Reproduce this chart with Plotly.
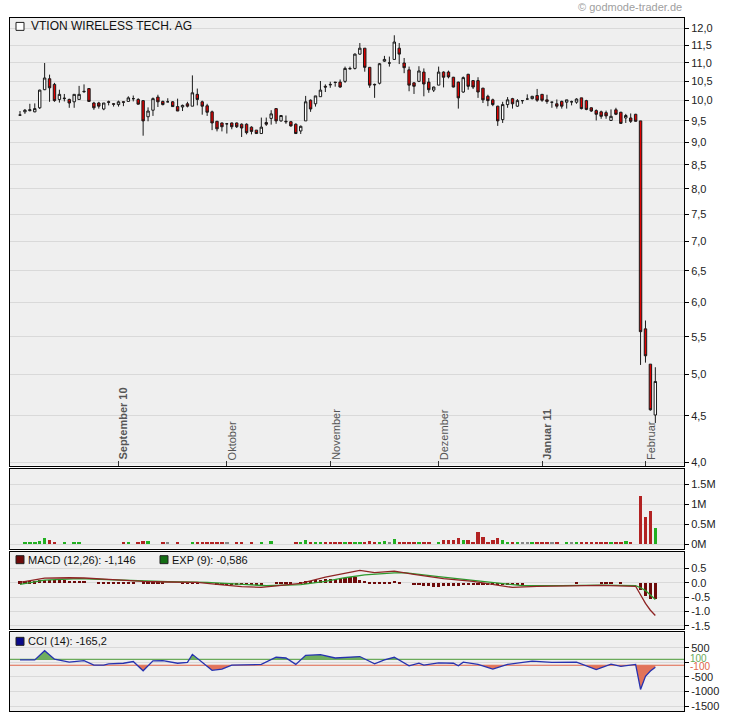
import math
import plotly.graph_objects as go

# ---------------- data ----------------
opens = [9.64, 9.72, 9.75, 9.72, 9.82, 10.28, 10.57, 10.42, 10.03, 10.05,
         10.03, 9.97, 10.03, 10.24, 10.31, 9.94, 9.94, 9.79, 9.97, 9.92,
         9.9, 9.97, 9.98, 10.05, 10.03, 10.0, 9.6, 9.76, 10.09, 9.98,
         9.97, 9.97, 9.85, 9.84, 9.92, 9.86, 10.16, 9.97, 9.87, 9.72,
         9.49, 9.45, 9.43, 9.45, 9.45, 9.42, 9.42, 9.35, 9.28, 9.2,
         9.46, 9.56, 9.8, 9.5, 9.49, 9.48, 9.42, 9.26, 9.5, 10.01,
         9.92, 10.1, 10.37, 10.42, 10.48, 10.48, 10.5, 10.85, 10.85, 11.25,
         11.42, 10.88, 10.42, 10.45, 11.05, 11.0, 11.1, 11.42, 11.0, 10.81,
         10.46, 10.5, 10.75, 10.48, 10.27, 10.4, 10.75, 10.75, 10.61, 10.48,
         10.22, 10.69, 10.52, 10.52, 10.32, 10.11, 10.02, 9.86, 9.53, 9.9,
         10.05, 9.86, 10.0, 10.04, 10.05, 10.13, 10.16, 10.02, 9.96, 9.92,
         9.98, 9.96, 9.97, 9.96, 10.07, 10.0, 9.82, 9.75, 9.72, 9.7,
         9.51, 9.77, 9.71, 9.57, 9.57, 9.66, 9.5, 5.61, 5.13, 4.51]
highs = [9.74, 9.79, 9.92, 9.93, 10.28, 11.0, 10.68, 10.46, 10.28, 10.17,
         10.05, 10.16, 10.38, 10.42, 10.31, 9.97, 9.97, 9.94, 10.0, 9.94,
         10.0, 9.98, 10.11, 10.13, 10.06, 10.01, 9.83, 10.08, 10.15, 10.0,
         10.06, 9.99, 10.05, 9.9, 9.97, 10.66, 10.31, 10.0, 9.92, 9.75,
         9.5, 9.46, 9.45, 9.46, 9.46, 9.44, 9.44, 9.37, 9.28, 9.58,
         9.58, 9.76, 9.8, 9.63, 9.63, 9.5, 9.44, 9.39, 10.12, 10.03,
         10.12, 10.51, 10.42, 10.49, 10.48, 10.55, 10.9, 10.9, 11.27, 11.57,
         11.42, 10.88, 10.44, 11.0, 11.2, 11.18, 11.8, 11.57, 11.14, 10.9,
         10.48, 10.91, 10.85, 10.59, 10.36, 10.9, 10.77, 10.79, 10.62, 10.49,
         10.63, 10.7, 10.53, 10.61, 10.33, 10.15, 10.05, 9.87, 9.97, 10.09,
         10.07, 10.04, 10.01, 10.16, 10.12, 10.3, 10.17, 10.15, 9.97, 10.03,
         10.0, 10.02, 10.0, 10.06, 10.07, 10.02, 9.83, 9.78, 9.75, 9.75,
         9.78, 9.82, 9.72, 9.67, 9.68, 9.67, 9.5, 5.73, 5.13, 5.09]
lows = [9.63, 9.67, 9.73, 9.71, 9.79, 10.27, 9.97, 9.97, 9.95, 9.98,
        9.82, 9.82, 10.03, 10.2, 9.97, 9.77, 9.8, 9.76, 9.88, 9.85,
        9.85, 9.86, 9.97, 9.98, 9.9, 9.15, 9.49, 9.62, 9.84, 9.88,
        9.96, 9.84, 9.74, 9.74, 9.83, 9.86, 9.88, 9.65, 9.62, 9.28,
        9.25, 9.25, 9.2, 9.3, 9.33, 9.12, 9.18, 9.18, 9.2, 9.2,
        9.38, 9.41, 9.43, 9.48, 9.43, 9.36, 9.19, 9.19, 9.5, 9.72,
        9.85, 10.1, 10.22, 10.33, 10.36, 10.33, 10.46, 10.82, 10.82, 11.23,
        10.76, 10.33, 10.07, 10.42, 11.03, 10.9, 11.1, 10.97, 10.72, 10.24,
        10.17, 10.48, 10.11, 10.2, 10.22, 10.4, 10.34, 10.58, 10.34, 9.8,
        10.2, 10.28, 10.3, 10.07, 9.94, 9.86, 9.86, 9.38, 9.45, 9.82,
        9.8, 9.84, 9.92, 10.03, 10.03, 9.97, 9.97, 9.92, 9.82, 9.8,
        9.8, 9.8, 9.88, 9.92, 9.78, 9.76, 9.72, 9.51, 9.55, 9.55,
        9.51, 9.64, 9.43, 9.45, 9.45, 9.48, 5.12, 5.15, 4.56, 4.42]
closes = [9.64, 9.76, 9.77, 9.8, 10.27, 10.59, 10.33, 10.0, 10.16, 10.06,
          9.94, 10.16, 10.16, 10.23, 9.98, 9.82, 9.86, 9.94, 9.96, 9.91,
          9.97, 9.96, 10.07, 10.05, 9.91, 9.5, 9.74, 10.05, 9.97, 9.9,
          9.97, 9.85, 9.74, 9.88, 9.86, 10.2, 10.03, 9.86, 9.71, 9.45,
          9.31, 9.36, 9.43, 9.36, 9.36, 9.33, 9.22, 9.25, 9.2, 9.35,
          9.42, 9.67, 9.5, 9.63, 9.48, 9.38, 9.2, 9.37, 9.97, 9.79,
          10.12, 10.27, 10.35, 10.41, 10.47, 10.35, 10.85, 10.84, 11.25, 11.42,
          10.88, 10.4, 10.41, 10.98, 11.1, 11.0, 11.6, 11.25, 10.87, 10.4,
          10.37, 10.78, 10.43, 10.28, 10.35, 10.75, 10.61, 10.62, 10.35, 10.07,
          10.6, 10.37, 10.35, 10.22, 10.02, 10.0, 9.9, 9.5, 9.9, 10.02,
          9.92, 10.0, 10.0, 10.04, 10.11, 10.01, 10.01, 9.98, 9.96, 9.86,
          9.86, 10.02, 9.97, 10.04, 9.8, 9.78, 9.74, 9.66, 9.61, 9.62,
          9.61, 9.66, 9.44, 9.63, 9.49, 9.49, 5.57, 5.24, 4.57, 4.91]
volumes = [0, 40000, 40000, 40000, 70000, 140000, 110000, 40000, 0, 40000,
           0, 40000, 40000, 0, 0, 0, 0, 0, 0, 0,
           0, 40000, 40000, 0, 60000, 70000, 70000, 0, 0, 40000,
           40000, 0, 40000, 0, 0, 60000, 40000, 40000, 40000, 40000,
           40000, 40000, 40000, 0, 40000, 60000, 0, 40000, 0, 40000,
           0, 70000, 0, 0, 0, 0, 40000, 40000, 90000, 40000,
           60000, 40000, 40000, 40000, 40000, 60000, 40000, 60000, 60000, 40000,
           60000, 70000, 40000, 60000, 70000, 60000, 130000, 60000, 40000, 60000,
           60000, 60000, 60000, 40000, 0, 60000, 90000, 90000, 90000, 160000,
           110000, 110000, 60000, 310000, 180000, 60000, 90000, 160000, 90000, 60000,
           40000, 40000, 40000, 40000, 40000, 60000, 60000, 60000, 40000, 40000,
           0, 40000, 40000, 40000, 40000, 40000, 40000, 60000, 40000, 60000,
           40000, 40000, 40000, 70000, 40000, 0, 1200000, 670000, 820000, 410000]

month_idx = [20, 42, 63, 85, 106, 127]
month_labels = ["September 10", "Oktober", "November", "Dezember", "Januar 11", "Februar"]
month_bold = [True, False, False, False, True, False]

price_ticks = [4.0, 4.5, 5.0, 5.5, 6.0, 6.5, 7.0, 7.5, 8.0, 8.5, 9.0, 9.5, 10.0, 10.5, 11.0, 11.5, 12.0]
support_levels = [5.24, 4.5]

vol_ticks = [0, 500000, 1000000, 1500000]
vol_tick_text = ["0M", "0.5M", "1M", "1.5M"]

macd_x = [0, 5, 10, 13, 18, 25, 30, 36, 40, 45, 49, 53, 57, 62, 66, 69, 72, 76, 80, 86,
          92, 96, 100, 105, 112, 118, 125, 126, 127, 128, 129]
macd_vals = [0.02, 0.17, 0.18, 0.17, 0.12, 0.05, 0.03, 0.02, -0.05, -0.13, -0.16, -0.1, -0.02,
             0.2, 0.35, 0.44, 0.36, 0.41, 0.3, 0.15, 0.05, -0.05, -0.16, -0.12, -0.1, -0.09,
             -0.12, -0.42, -0.72, -0.96, -1.146]
signal_x = [0, 5, 12, 20, 30, 38, 44, 50, 57, 62, 66, 70, 76, 78, 85, 92, 97, 102, 110, 118,
            125, 126, 127, 128, 129]
signal_vals = [-0.05, 0.1, 0.15, 0.1, 0.04, 0.02, -0.04, -0.1, -0.06, 0.05, 0.18, 0.28, 0.35,
               0.36, 0.22, 0.08, -0.02, -0.1, -0.1, -0.08, -0.1, -0.17, -0.27, -0.42, -0.586]
hist_vals = ([0.06] * 4 + [0.1] * 6 + [0.07] * 4 + [0] * 2 + [0.05] * 8 + [0] + [0.05] * 5 +
             [0] * 3 + [0.02] * 4 + [0] * 3 + [-0.05] * 10 + [0] * 2 + [0.04] * 4 + [0] +
             [0.04, 0.06, 0.08, 0.1, 0.12, 0.13, 0.15, 0.16, 0.18, 0.19, 0.2, 0.2] +
             [0.12, 0.08, 0.05, 0.05, 0.05, 0.05, 0.05, 0.07, 0.05] + [0] * 2 +
             [-0.05, -0.08, -0.1, -0.11, -0.13, -0.12, -0.11, -0.1, -0.1, -0.09, -0.08, -0.08,
              -0.07, -0.07, -0.06, -0.06, -0.05, -0.05, -0.05, -0.04, -0.04, -0.03, -0.03] +
             [0] * 8 + [0] * 2 + [0.05] + [0] * 4 + [0.04] * 3 + [0] + [0.04] + [0] * 3 +
             [-0.25, -0.45, -0.54, -0.56])
macd_ticks = [-1.5, -1.0, -0.5, 0.0, 0.5]

cci_x = [0, 3, 5, 7, 10, 13, 15, 17, 18, 21, 23, 25, 27, 29, 32, 34, 35, 37, 39, 41, 43, 49,
         52, 54, 56, 58, 61, 64, 69, 72, 74, 76, 79, 81, 82, 85, 88, 89, 90, 93, 96, 99, 104,
         108, 113, 117, 120, 122, 125, 126, 127, 128, 129]
cci_vals = [85, 85, 400, 107, 5, 60, -95, -95, -50, -30, 30, -290, 50, 60, -30, 0, 275, 0,
            -275, -230, -95, -70, 175, 150, -70, 240, 265, 150, 200, -50, 85, 175, -120, -30,
            -95, -15, -30, -120, 5, -70, -230, -70, 40, 0, 5, -250, -60, -140, -70, -930, -480,
            -300, -165.2]
cci_ticks = [-1500, -1000, -500, 0, 500]
cci_levels = [100, -100]

# ---------------- geometry helpers ----------------
W, H = 730, 724
FONT = "Liberation Sans, Arial, sans-serif"


def px(x):
    return x / W


def py(y):
    return 1 - y / H


N = len(closes)
xs = list(range(N))
X0_PIX, STEP = 20.0, 4.925
XL, XR = 10, 684
x_range = [-(X0_PIX - XL) / STEP, (XR - X0_PIX) / STEP]

main_dom = [py(467.5), py(18)]
vol_dom = [py(551), py(471)]
macd_dom = [py(632), py(554)]
cci_dom = [py(714), py(635)]

fig = go.Figure()

# candles
fig.add_trace(go.Candlestick(
    x=xs, open=opens, high=highs, low=lows, close=closes,
    increasing=dict(line=dict(color="#1a1a1a", width=1), fillcolor="#ffffff"),
    decreasing=dict(line=dict(color="#1a1a1a", width=1), fillcolor="#e00000"),
    whiskerwidth=0, xaxis="x", yaxis="y", showlegend=False, hoverinfo="skip"))

# volume
vol_colors = ["#22b022" if c > o else ("#b22222" if c < o else "#888888")
              for o, c in zip(opens, closes)]
fig.add_trace(go.Bar(x=xs, y=volumes, marker=dict(color=vol_colors, line=dict(width=0)),
                     width=0.7, xaxis="x2", yaxis="y2", showlegend=False))

# MACD
fig.add_trace(go.Bar(x=xs, y=hist_vals, marker=dict(color="#6e0b0b", line=dict(width=0)),
                     width=0.65, xaxis="x3", yaxis="y3", showlegend=False))
fig.add_trace(go.Scatter(x=signal_x, y=signal_vals, mode="lines",
                         line=dict(color="#2e9a2e", width=1.3), xaxis="x3", yaxis="y3",
                         showlegend=False))
fig.add_trace(go.Scatter(x=macd_x, y=macd_vals, mode="lines",
                         line=dict(color="#8e2424", width=1.3), xaxis="x3", yaxis="y3",
                         showlegend=False))


# CCI fills
def clipped_polygon(xv, yv, level, above):
    pxs, pys = [], []
    for k in range(len(xv)):
        if k > 0:
            y0, y1 = yv[k - 1], yv[k]
            if (y0 - level) * (y1 - level) < 0:
                t = (level - y0) / (y1 - y0)
                pxs.append(xv[k - 1] + t * (xv[k] - xv[k - 1]))
                pys.append(level)
        pxs.append(xv[k])
        pys.append(max(yv[k], level) if above else min(yv[k], level))
    return pxs + pxs[::-1], pys + [level] * len(pxs)


gx, gy = clipped_polygon(cci_x, cci_vals, cci_levels[0], True)
fig.add_trace(go.Scatter(x=gx, y=gy, fill="toself", fillcolor="#6fae5e", mode="lines",
                         line=dict(width=0), xaxis="x4", yaxis="y4", showlegend=False))
rx, ry = clipped_polygon(cci_x, cci_vals, cci_levels[1], False)
fig.add_trace(go.Scatter(x=rx, y=ry, fill="toself", fillcolor="#e2735a", mode="lines",
                         line=dict(width=0), xaxis="x4", yaxis="y4", showlegend=False))
fig.add_trace(go.Scatter(x=cci_x, y=cci_vals, mode="lines",
                         line=dict(color="#2632b0", width=1.3), xaxis="x4", yaxis="y4",
                         showlegend=False))

shapes = []
# CCI level lines
for lvl, col in zip(cci_levels, ["#6aaa5a", "#e0664a"]):
    shapes.append(dict(type="line", xref="x4 domain", x0=0, x1=1, yref="y4", y0=lvl, y1=lvl,
                       line=dict(color=col, width=1.2), layer="below"))
# support lines on price chart
for lvl in support_levels:
    shapes.append(dict(type="line", xref="x domain", x0=0, x1=1, yref="y",
                       y0=math.log10(lvl), y1=math.log10(lvl),
                       line=dict(color="#6b6bd6", width=1.2)))


def legend_square(x, y, color):
    shapes.append(dict(type="rect", xref="paper", yref="paper",
                       x0=px(x), x1=px(x + 8), y0=py(y + 4), y1=py(y - 4),
                       fillcolor=color, line=dict(color="#222222", width=1)))


legend_square(16, 26.5, "#ffffff")
legend_square(16, 562, "#6e0b0b")
legend_square(160, 562, "#146e14")
legend_square(16, 644, "#0a0a8a")

ann = []


def text(x, y, s, size=11, color="#111111", xanchor="left", **kw):
    ann.append(dict(xref="paper", yref="paper", x=px(x), y=py(y), text=s, showarrow=False,
                    xanchor=xanchor, yanchor="middle",
                    font=dict(family=FONT, size=size, color=color), **kw))


text(29, 26.5, "VTION WIRELESS TECH. AG", size=12)
text(684, 7.5, "© godmode-trader.de", size=11, color="#a0a0a0", xanchor="right")
text(26, 562, "MACD (12,26): -1,146")
text(170, 562, "EXP (9): -0,586")
text(26, 644, "CCI (14): -165,2")

# month labels
for idx, lab, bold in zip(month_idx, month_labels, month_bold):
    ann.append(dict(xref="x", yref="paper", x=idx, y=py(464), xshift=5,
                    text=("<b>%s</b>" % lab) if bold else lab, textangle=-90,
                    showarrow=False, xanchor="center", yanchor="bottom",
                    font=dict(family=FONT, size=11, color="#555555")))

# CCI +-100 labels
for lvl, col, shift in zip(cci_levels, ["#6aaa5a", "#e0664a"], [1, -1]):
    ann.append(dict(xref="paper", yref="y4", x=px(688), y=lvl, yshift=shift, text=str(lvl),
                    showarrow=False, xanchor="left", yanchor="middle",
                    font=dict(family=FONT, size=10, color=col)))

GRID = "#d9d9d9"
axis_common = dict(showline=True, mirror=True, linecolor="#000000", linewidth=1,
                   zeroline=False, fixedrange=True)
tickfont = dict(family=FONT, size=11, color="#222222")


def xaxis(anchor, ticks):
    d = dict(domain=[px(XL), px(XR)], range=x_range, anchor=anchor, showgrid=False,
             showticklabels=False, **axis_common)
    if ticks:
        d.update(ticks="inside", tickvals=month_idx, ticklen=5, tickcolor="#333333")
    else:
        d.update(ticks="")
    return d


def yaxis(dom, rng, tv, tt, anchor, **kw):
    d = dict(domain=dom, range=rng, side="right", anchor=anchor, tickvals=tv, ticktext=tt,
             ticks="outside", ticklen=4, tickcolor="#000000", showgrid=True, gridcolor=GRID,
             gridwidth=1, tickfont=tickfont, **axis_common)
    d.update(kw)
    return d


main_rng = [math.log10(3.968), math.log10(12.33)]

fig.update_layout(
    width=W, height=H, margin=dict(l=0, r=0, t=0, b=0),
    paper_bgcolor="#ffffff", plot_bgcolor="#efefef",
    showlegend=False, bargap=0,
    xaxis=dict(xaxis("y", True), rangeslider=dict(visible=False)),
    xaxis2=xaxis("y2", False),
    xaxis3=xaxis("y3", False),
    xaxis4=xaxis("y4", False),
    yaxis=yaxis(main_dom, main_rng, price_ticks,
                [("%.1f" % v).replace(".", ",") for v in price_ticks], "x", type="log"),
    yaxis2=yaxis(vol_dom, [-117500, 1882500], vol_ticks, vol_tick_text, "x2"),
    yaxis3=yaxis(macd_dom, [-1.631, 1.093], macd_ticks, ["%.1f" % v for v in macd_ticks], "x3"),
    yaxis4=yaxis(cci_dom, [-1672, 1030], cci_ticks,
                 [("" if v == 0 else str(v)) for v in cci_ticks], "x4"),
    shapes=shapes, annotations=ann,
)

fig.write_html("out.html", config={"displayModeBar": False},
               post_script="document.body.style.margin='0';")
